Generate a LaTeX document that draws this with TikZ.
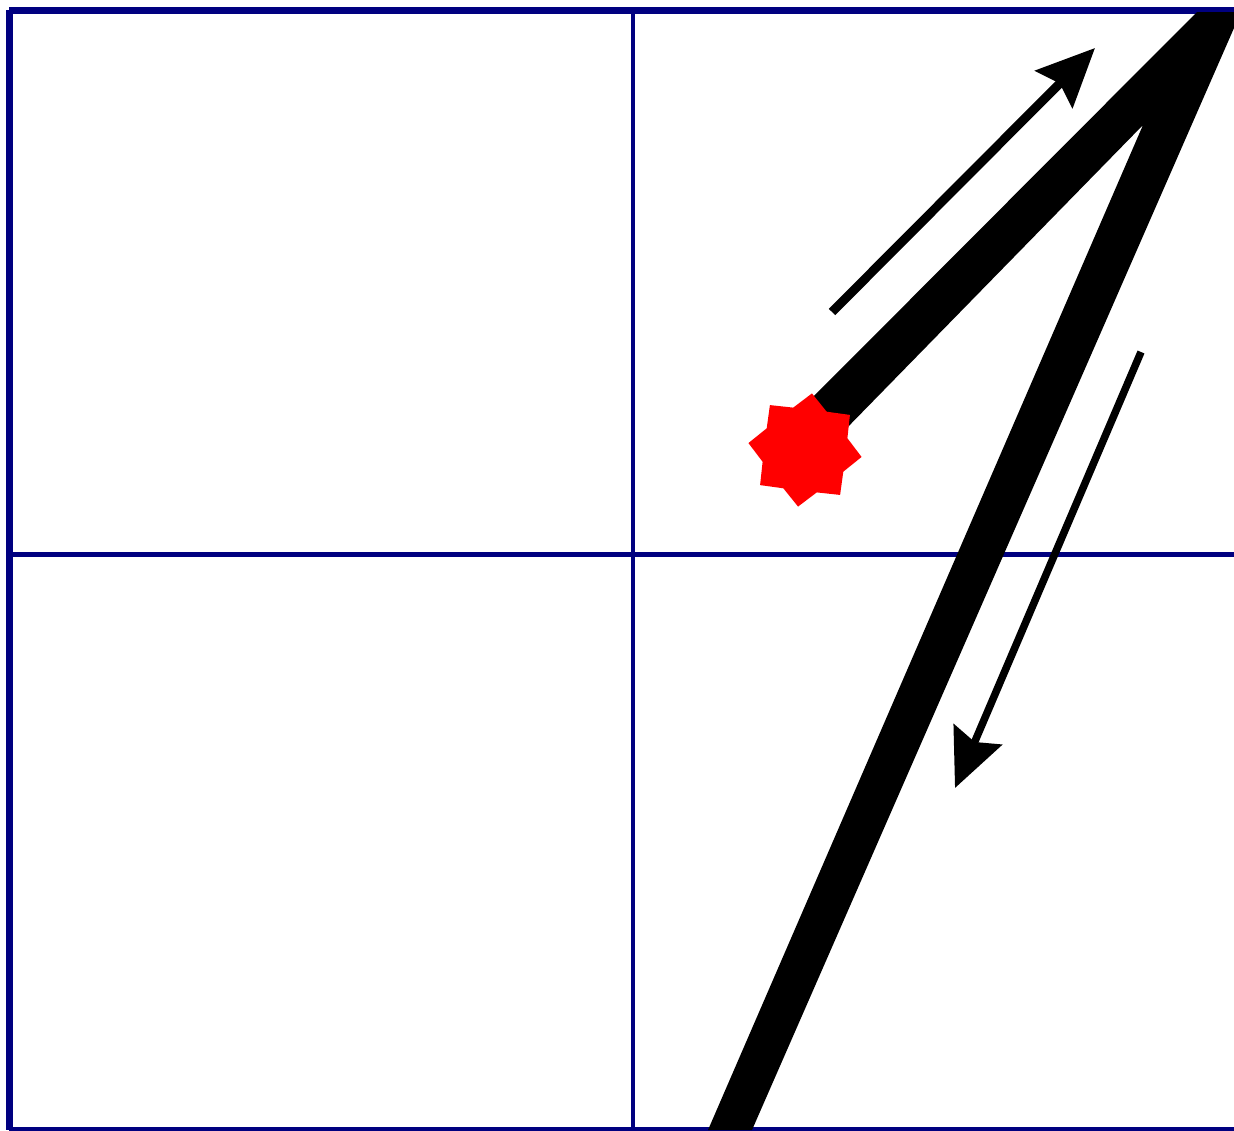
\documentclass[tikz,border=0pt]{standalone}
\usetikzlibrary{arrows.meta}
\definecolor{gridblue}{RGB}{0,0,128}
\begin{document}
\begin{tikzpicture}[x=1pt,y=-1pt,
  gridline/.style={draw=gridblue, line width=5pt},
  brush/.style={fill=black},
  guide/.style={draw=black, line width=9pt, -{Stealth[length=58pt,width=52pt,inset=8pt]}},
  dot/.style={circle, minimum size=114pt, inner sep=0pt}]
\fill[white] (0,0) rectangle (1234,1130);
\useasboundingbox (0,0) rectangle (1234,1130);
% grid
\draw[gridline, line width=7pt] (9,10.5) -- (1234,10.5);
\draw[gridline, line width=7pt] (9,10) -- (9,1130);
\draw[gridline, line width=4pt] (9,1128.5) -- (1234,1128.5);
\draw[gridline, line width=4pt] (633,10) -- (633,1130);
\draw[gridline] (9,554.5) -- (1234,554.5);
% stroke
\fill[brush] (805,405) -- (1197,12) -- (1234,12) -- (1234,28) -- (752,1130) -- (708,1130) -- (1143,125) -- (840,435) -- cycle;
% start mark
\node[dot] (start) at (805,450) {};
\fill[red, shift={(start.center)}] (7:57)
  \foreach \k in {0,...,7} { -- ({7-45*\k}:57) -- ({7-45*\k-22.5}:44) } -- cycle;
% direction arrows
\coordinate (a1s) at (832,312);
\coordinate (a1e) at (1095,48);
\coordinate (a2s) at (1141,352);
\coordinate (a2e) at (955,788);
\draw[guide] (a1s) -- (a1e);
\draw[guide, line width=7.5pt] (a2s) -- (a2e);
\end{tikzpicture}
\end{document}
